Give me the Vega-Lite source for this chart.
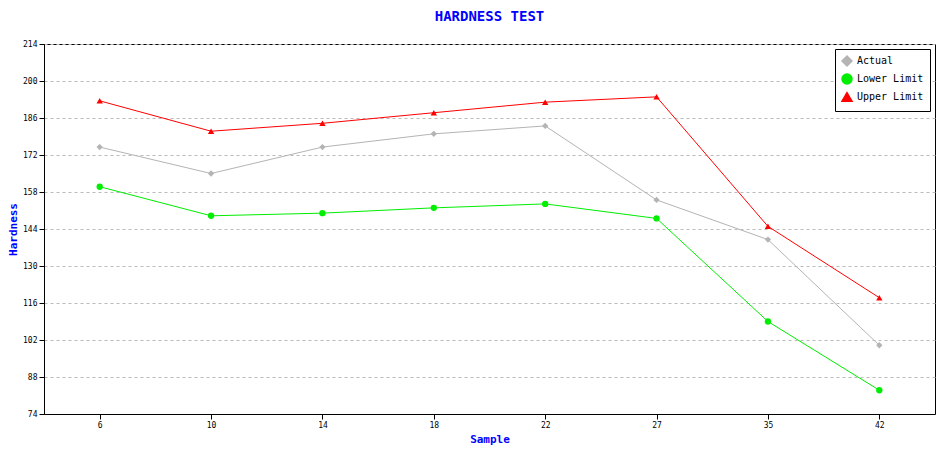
{
  "$schema": "https://vega.github.io/schema/vega-lite/v6.json",
  "width": 891,
  "height": 370,
  "autosize": "none",
  "padding": {"left": 44, "top": 44, "right": 15, "bottom": 36},
  "background": "white",
  "title": {"text": "HARDNESS TEST", "color": "#0000ff", "font": "DejaVu Sans Mono", "fontSize": 14, "fontWeight": "bold", "offset": 16},
  "data": {"values": [
    {"sample": "6", "series": "Actual", "v": 175},
    {"sample": "10", "series": "Actual", "v": 165},
    {"sample": "14", "series": "Actual", "v": 175},
    {"sample": "18", "series": "Actual", "v": 180},
    {"sample": "22", "series": "Actual", "v": 183},
    {"sample": "27", "series": "Actual", "v": 155},
    {"sample": "35", "series": "Actual", "v": 140},
    {"sample": "42", "series": "Actual", "v": 100},
    {"sample": "6", "series": "Lower Limit", "v": 160},
    {"sample": "10", "series": "Lower Limit", "v": 149},
    {"sample": "14", "series": "Lower Limit", "v": 150},
    {"sample": "18", "series": "Lower Limit", "v": 152},
    {"sample": "22", "series": "Lower Limit", "v": 153.5},
    {"sample": "27", "series": "Lower Limit", "v": 148},
    {"sample": "35", "series": "Lower Limit", "v": 109},
    {"sample": "42", "series": "Lower Limit", "v": 83},
    {"sample": "6", "series": "Upper Limit", "v": 192.5},
    {"sample": "10", "series": "Upper Limit", "v": 181},
    {"sample": "14", "series": "Upper Limit", "v": 184},
    {"sample": "18", "series": "Upper Limit", "v": 188},
    {"sample": "22", "series": "Upper Limit", "v": 192},
    {"sample": "27", "series": "Upper Limit", "v": 194},
    {"sample": "35", "series": "Upper Limit", "v": 145},
    {"sample": "42", "series": "Upper Limit", "v": 118}
  ]},
  "mark": {"type": "line", "strokeWidth": 1, "point": {"filled": true, "size": 40}},
  "encoding": {
    "x": {"field": "sample", "type": "ordinal", "sort": null, "title": "Sample",
      "axis": {"labelAngle": 0, "grid": false, "domain": true, "domainColor": "black", "tickColor": "black"}},
    "y": {"field": "v", "type": "quantitative", "title": "Hardness",
      "scale": {"domain": [74, 214], "nice": false},
      "axis": {"values": [74, 88, 102, 116, 130, 144, 158, 172, 186, 200, 214], "gridDash": [3, 3], "gridColor": "#bbbbbb", "domainColor": "black", "tickColor": "black"}},
    "color": {"field": "series", "type": "nominal",
      "scale": {"domain": ["Actual", "Lower Limit", "Upper Limit"], "range": ["#b4b4b4", "#00ee00", "#ff0000"]},
      "legend": {"title": null, "orient": "top-right", "symbolType": "square", "strokeColor": "black", "fillColor": "white", "padding": 6, "offset": 5}},
    "shape": {"field": "series", "type": "nominal",
      "scale": {"domain": ["Actual", "Lower Limit", "Upper Limit"], "range": ["diamond", "circle", "triangle-up"]},
      "legend": null}
  },
  "config": {
    "font": "DejaVu Sans Mono",
    "view": {"stroke": "black"},
    "axis": {"labelFont": "DejaVu Sans Mono", "labelFontSize": 8, "titleFont": "DejaVu Sans Mono", "titleColor": "#0000ff", "titleFontSize": 11, "titleFontWeight": "bold", "labelColor": "black"},
    "legend": {"labelFont": "DejaVu Sans Mono", "labelFontSize": 10}
  }
}
